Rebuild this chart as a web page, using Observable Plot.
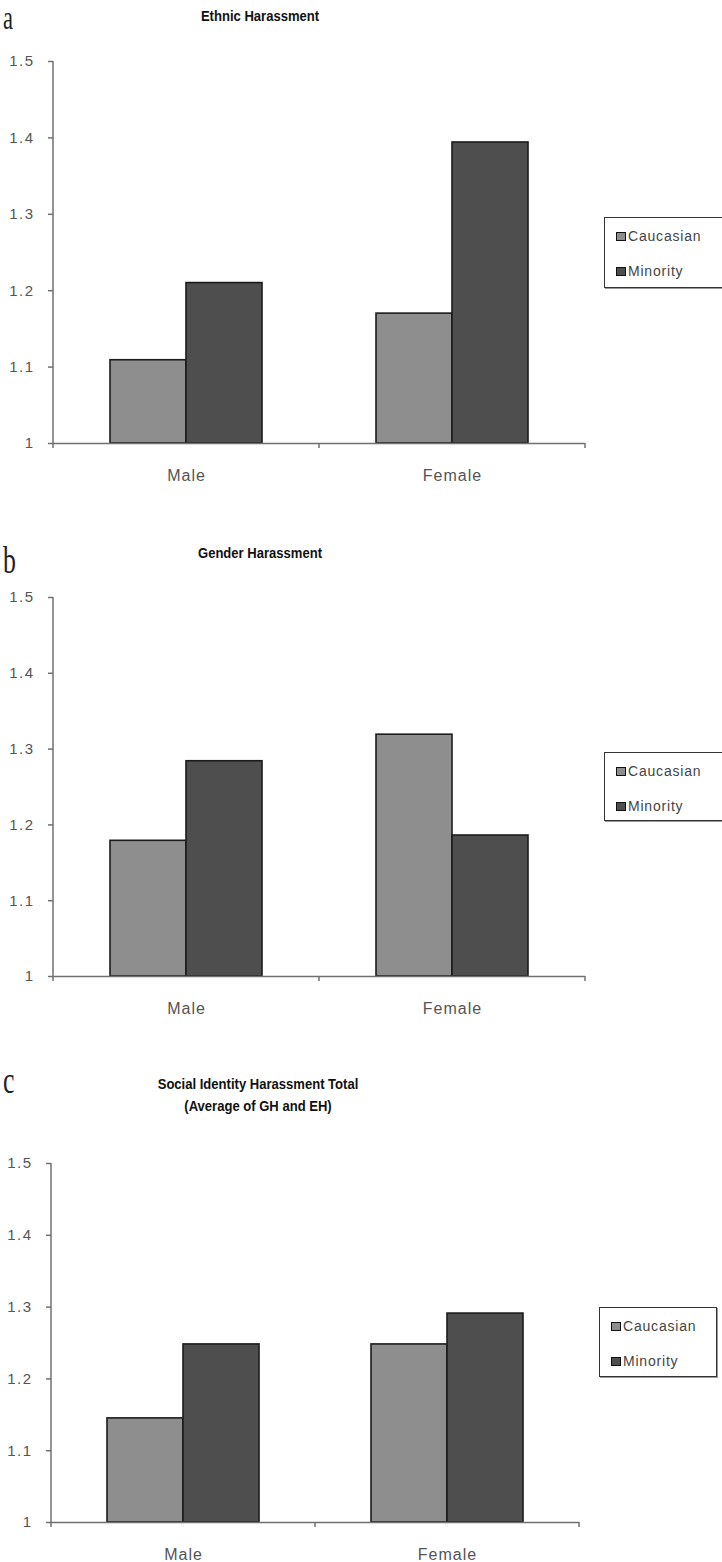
<!DOCTYPE html>
<html><head><meta charset="utf-8">
<script src="https://cdn.jsdelivr.net/npm/d3@7"></script>
<script src="https://cdn.jsdelivr.net/npm/@observablehq/plot@0.6"></script>
<style>
body{margin:0;background:#fff;width:722px;height:1562px;position:relative;overflow:hidden;font-family:"Liberation Sans",Arial,sans-serif;}
.panel{position:absolute;left:0;}
.letter{position:absolute;left:3px;font-family:"Liberation Serif",serif;font-size:38px;line-height:normal;transform-origin:left top;transform:scaleX(0.68);color:#222;}
.title{position:absolute;font-weight:bold;font-size:15px;color:#111;text-align:center;transform:translateX(-50%) scaleX(0.87);white-space:nowrap;line-height:22px;}
.legend{position:absolute;border:1px solid #333;box-shadow:1px 1px 0 #999;background:#fff;}
.item{position:absolute;left:11px;display:flex;align-items:center;font-size:14px;letter-spacing:0.8px;color:#444;white-space:nowrap;line-height:16px;}
.sw{width:8px;height:7px;border:1.5px solid #111;margin-right:2px;}
svg [aria-label="fx-axis tick label"] text{font-size:16px;letter-spacing:1px;}
svg [aria-label="y-axis tick label"] text{letter-spacing:1.5px;}
svg [aria-label="y-axis tick"] path{stroke:#707070;stroke-width:1.5;}
</style>
</head><body>
<script>
// ---- data ----
const genders = ["Male", "Female"];
const races = ["Caucasian", "Minority"];
const raceColors = ["#8e8e8e", "#4e4e4e"];
const yTicks = [1, 1.1, 1.2, 1.3, 1.4, 1.5];
const yTickLabels = ["1", "1.1", "1.2", "1.3", "1.4", "1.5"];
const panelLetters = ["a", "b", "c"];
const panelTitles = [["Ethnic Harassment"], ["Gender Harassment"], ["Social Identity Harassment Total", "(Average of GH and EH)"]];
// values ordered: Male-Caucasian, Male-Minority, Female-Caucasian, Female-Minority
const ethnicValues = [1.109, 1.21, 1.17, 1.394];
const genderValues = [1.179, 1.284, 1.319, 1.186];
const totalValues = [1.145, 1.248, 1.248, 1.291];
const panelValues = [ethnicValues, genderValues, totalValues];

// ---- layout ----
const layouts = [
  {top: 0, height: 490, mt: 61, mb: 47, ml: 52, mr: 137, letterTop: 0, letterSize: 33, titleTop: 5, titleX: 260, legend: {l: 604, t: 217, w: 117, h: 69}},
  {top: 537, height: 490, mt: 60, mb: 51, ml: 52, mr: 137, letterTop: 538, letterSize: 38, titleTop: 542, titleX: 260, legend: {l: 604, t: 752, w: 122, h: 67}},
  {top: 1100, height: 470, mt: 63, mb: 48, ml: 51, mr: 143, letterTop: 1058, letterSize: 38, titleTop: 1073, titleX: 258, legend: {l: 599, t: 1307, w: 116, h: 68}}
];

function tableFor(values) {
  const rows = [];
  genders.forEach((g, gi) => races.forEach((r, ri) => rows.push({gender: g, race: r, value: values[gi * races.length + ri]})));
  return rows;
}

panelValues.forEach((values, i) => {
  const L = layouts[i];
  const data = tableFor(values);
  const chart = Plot.plot({
    width: 722, height: L.height,
    marginTop: L.mt, marginBottom: L.mb, marginLeft: L.ml, marginRight: L.mr,
    style: {fontFamily: "Liberation Sans, Arial, sans-serif", fontSize: "15px", color: "#555", background: "transparent"},
    fx: {domain: genders, padding: 0, axis: "bottom", tickSize: 0, tickPadding: 26, label: null},
    x: {domain: races, paddingInner: 0, paddingOuter: 0.73, axis: null},
    y: {domain: [yTicks[0], yTicks[yTicks.length - 1]], ticks: yTicks, tickFormat: (d) => yTickLabels[yTicks.indexOf(d)] ?? d, tickSize: 5, tickPadding: 14, label: null},
    color: {domain: races, range: raceColors},
    marks: [
      Plot.barY(data, {fx: "gender", x: "race", y1: yTicks[0], y2: "value", fill: "race", stroke: "#1c1c1c", strokeWidth: 1.6, inset: 0}),
      Plot.ruleY([yTicks[0]], {stroke: "#707070", strokeWidth: 1.5})
    ]
  });
  // axis line and category boundary ticks from the plot's own scales
  try {
    const fx = chart.scale("fx"), y = chart.scale("y");
    const svg = d3.select(chart);
    const x0 = fx.apply(genders[0]);
    const ends = genders.map(g => fx.apply(g) + fx.bandwidth);
    const yb = y.apply(yTicks[0]), yt = y.apply(yTicks[yTicks.length - 1]);
    const g = svg.append("g").attr("stroke", "#707070").attr("stroke-width", 1.5);
    g.append("line").attr("x1", x0).attr("x2", x0).attr("y1", yt).attr("y2", yb + 5);
    ends.forEach(x => g.append("line").attr("x1", x).attr("x2", x).attr("y1", yb).attr("y2", yb + 5));
  } catch (e) {}
  const wrap = document.createElement("div");
  wrap.className = "panel";
  wrap.style.top = L.top + "px";
  wrap.appendChild(chart);
  document.body.appendChild(wrap);

  const letter = document.createElement("div");
  letter.className = "letter";
  letter.style.top = L.letterTop + "px";
  letter.style.fontSize = L.letterSize + "px";
  letter.textContent = panelLetters[i];
  document.body.appendChild(letter);

  const title = document.createElement("div");
  title.className = "title";
  title.style.top = L.titleTop + "px";
  title.style.left = L.titleX + "px";
  title.innerHTML = panelTitles[i].join("<br>");
  document.body.appendChild(title);

  const leg = document.createElement("div");
  leg.className = "legend";
  Object.assign(leg.style, {left: L.legend.l + "px", top: L.legend.t + "px", width: L.legend.w + "px", height: L.legend.h + "px"});
  races.forEach((r, ri) => {
    const it = document.createElement("div");
    it.className = "item";
    it.style.top = (10 + ri * 35) + "px";
    const sw = document.createElement("span");
    sw.className = "sw";
    sw.style.background = raceColors[ri];
    it.appendChild(sw);
    it.appendChild(document.createTextNode(r));
    leg.appendChild(it);
  });
  document.body.appendChild(leg);
});
</script>
</body></html>
